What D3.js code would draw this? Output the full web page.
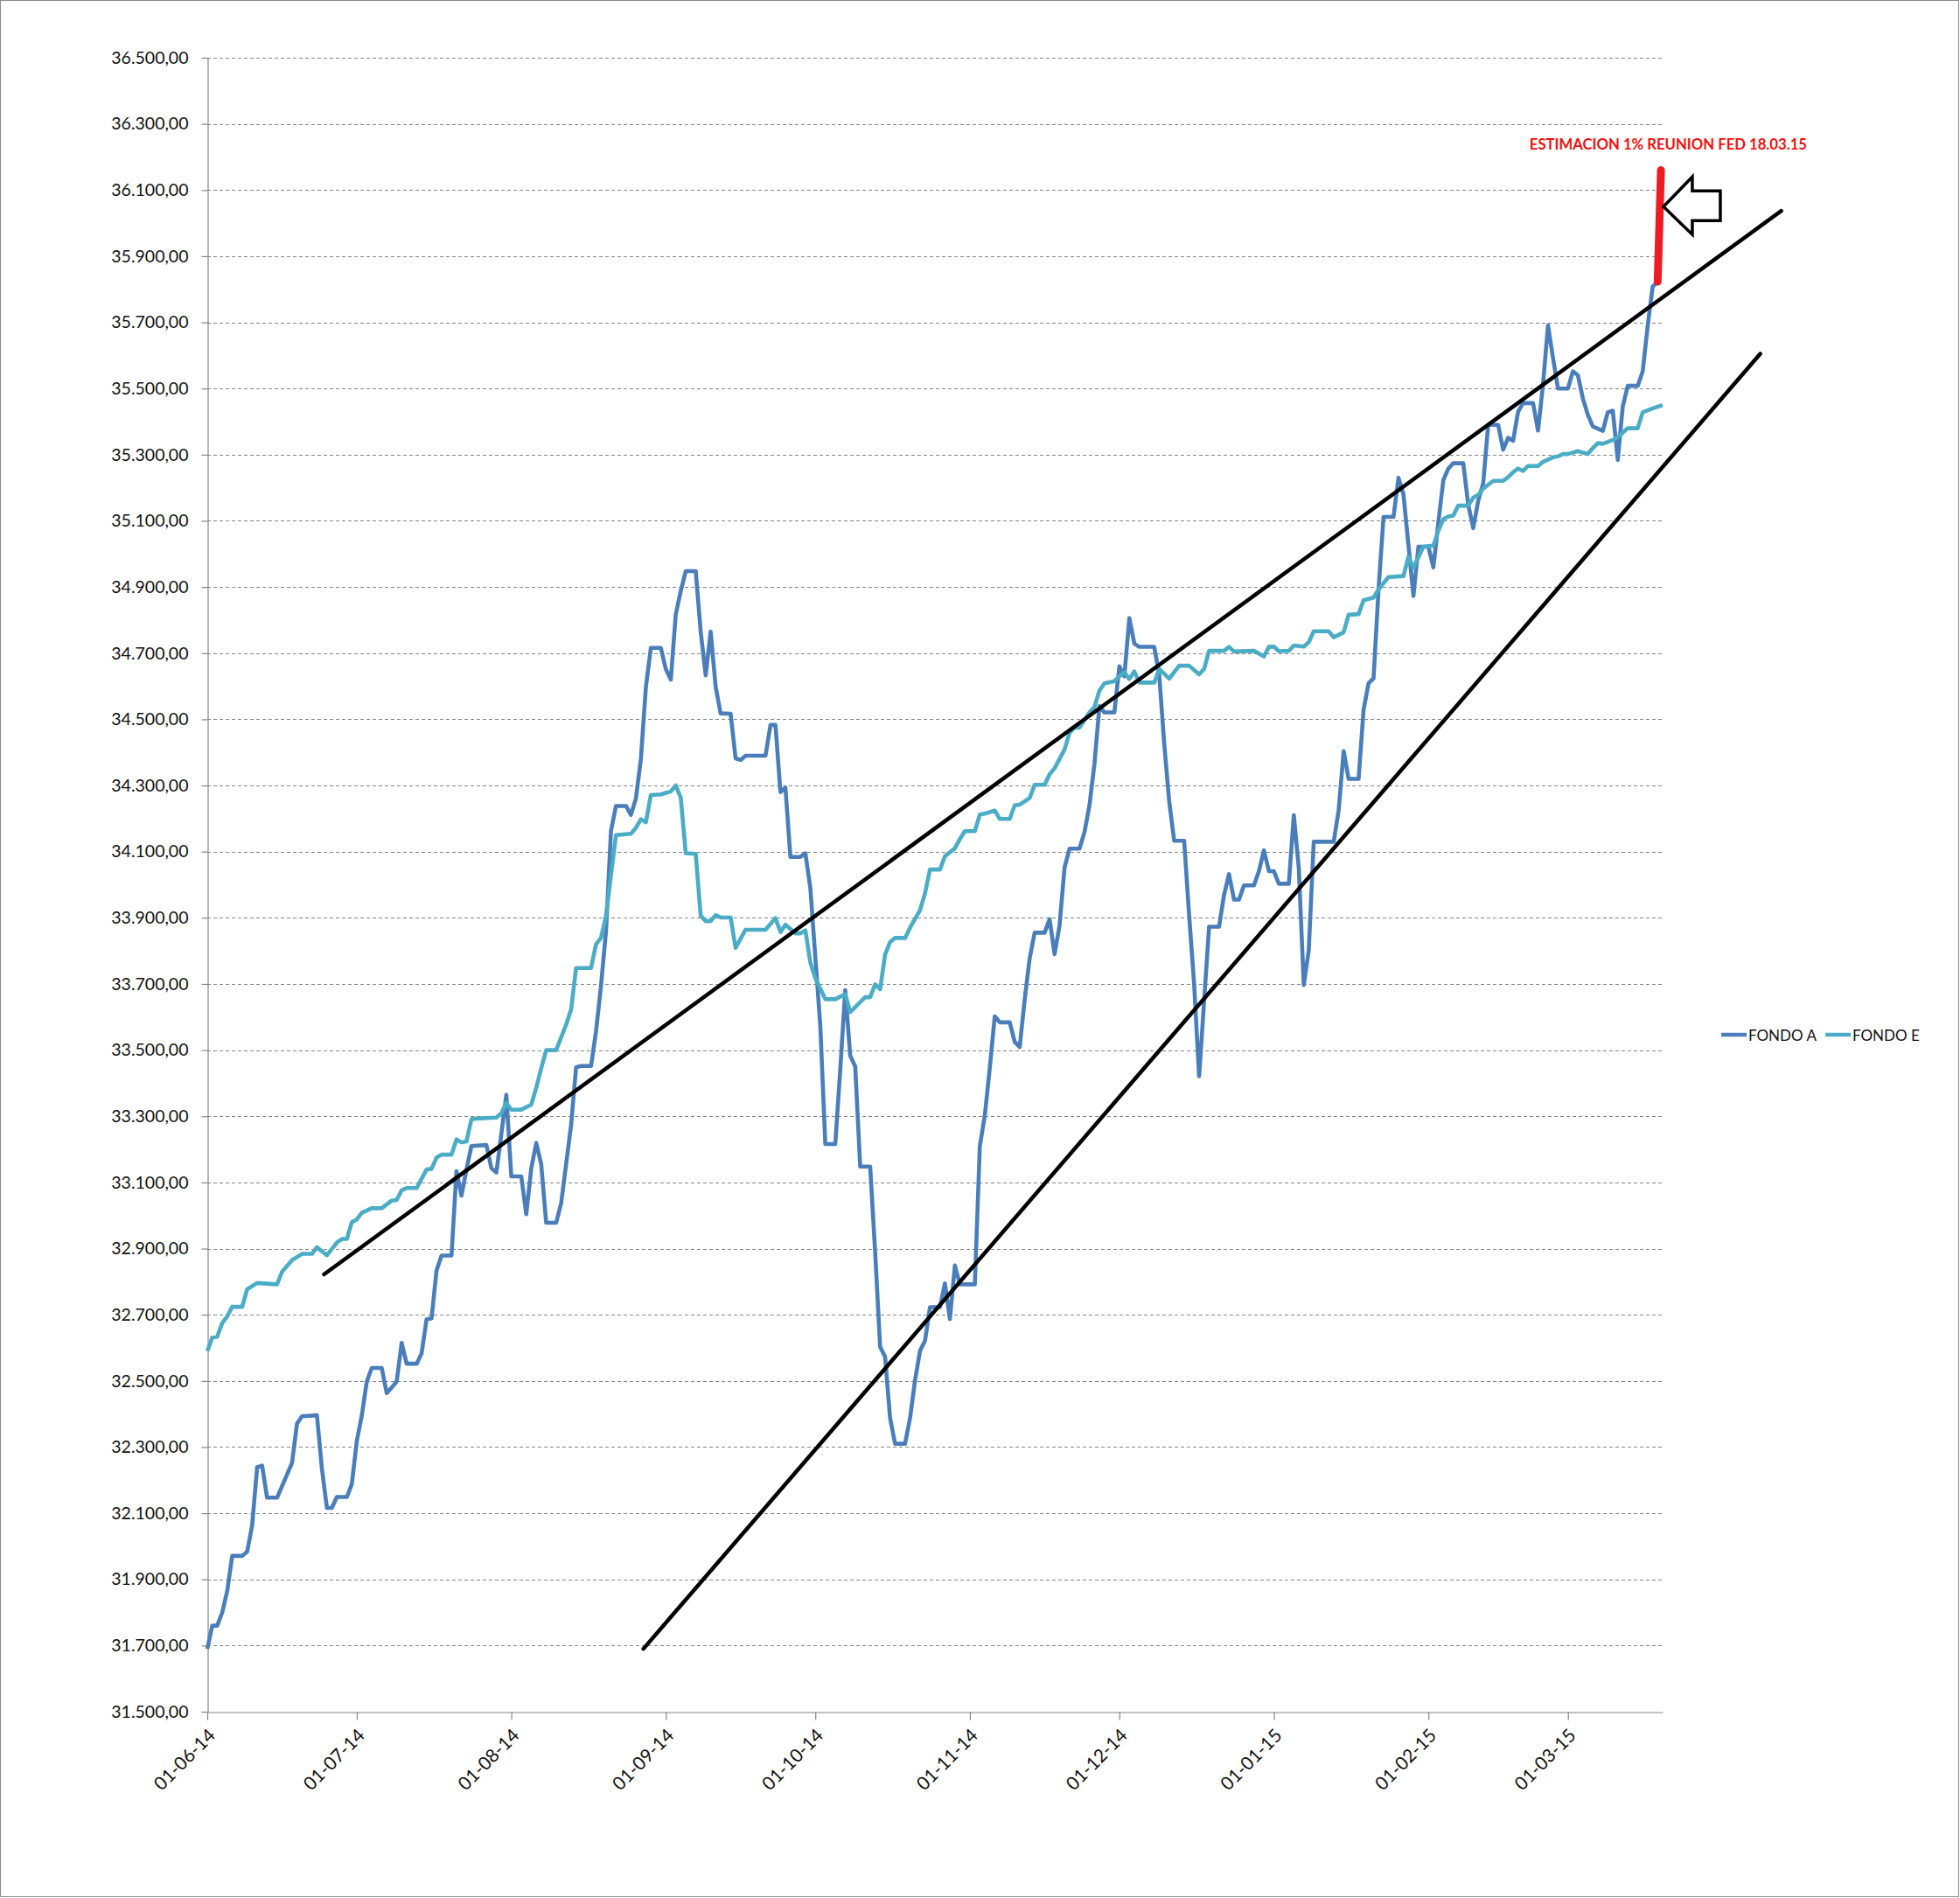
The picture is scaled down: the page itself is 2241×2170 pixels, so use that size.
<!DOCTYPE html>
<html><head><meta charset="utf-8">
<script src="https://cdn.jsdelivr.net/npm/d3@7"></script>
<style>body{margin:0;background:#fff}svg{display:block}</style>
</head><body>
<svg id="chart" width="2241" height="2170"></svg>
<script>
// ---------- data ----------
const seriesNames = ["FONDO A", "FONDO E"];
const yTickValues = [31500,31700,31900,32100,32300,32500,32700,32900,33100,33300,33500,33700,33900,34100,34300,34500,34700,34900,35100,35300,35500,35700,35900,36100,36300,36500];
const xTickDates = ["2014-06-01","2014-07-01","2014-08-01","2014-09-01","2014-10-01","2014-11-01","2014-12-01","2015-01-01","2015-02-01","2015-03-01"];
const xDomain = ["2014-06-01","2015-03-20"];
const yDomain = [31500, 36500];

const fondoA = [
["2014-06-01",31690],["2014-06-02",31760],["2014-06-03",31760],["2014-06-04",31800],["2014-06-05",31865],["2014-06-06",31971],["2014-06-08",31971],["2014-06-09",31984],["2014-06-10",32063],["2014-06-11",32239],["2014-06-12",32244],["2014-06-13",32147],["2014-06-15",32147],["2014-06-16",32182],["2014-06-18",32252],["2014-06-19",32371],["2014-06-20",32393],["2014-06-23",32396],["2014-06-24",32235],["2014-06-25",32116],["2014-06-26",32116],["2014-06-27",32149],["2014-06-29",32149],["2014-06-30",32188],
["2014-07-01",32318],["2014-07-02",32395],["2014-07-03",32498],["2014-07-04",32539],["2014-07-06",32539],["2014-07-07",32463],["2014-07-08",32480],["2014-07-09",32498],["2014-07-10",32615],["2014-07-11",32552],["2014-07-13",32552],["2014-07-14",32583],["2014-07-15",32686],["2014-07-16",32689],["2014-07-17",32834],["2014-07-18",32879],["2014-07-20",32879],["2014-07-21",33134],["2014-07-22",33060],["2014-07-23",33139],["2014-07-24",33210],["2014-07-27",33213],["2014-07-28",33143],["2014-07-29",33130],["2014-07-30",33246],["2014-07-31",33365],
["2014-08-01",33118],["2014-08-03",33118],["2014-08-04",33004],["2014-08-05",33142],["2014-08-06",33219],["2014-08-07",33155],["2014-08-08",32978],["2014-08-10",32978],["2014-08-11",33037],["2014-08-12",33155],["2014-08-13",33274],["2014-08-14",33448],["2014-08-15",33452],["2014-08-17",33452],["2014-08-18",33557],["2014-08-19",33695],["2014-08-20",33860],["2014-08-21",34163],["2014-08-22",34238],["2014-08-24",34238],["2014-08-25",34211],["2014-08-26",34261],["2014-08-27",34380],["2014-08-28",34597],["2014-08-29",34716],["2014-08-31",34716],
["2014-09-01",34652],["2014-09-02",34620],["2014-09-03",34818],["2014-09-04",34888],["2014-09-05",34948],["2014-09-07",34948],["2014-09-08",34765],["2014-09-09",34633],["2014-09-10",34765],["2014-09-11",34598],["2014-09-12",34518],["2014-09-14",34517],["2014-09-15",34382],["2014-09-16",34377],["2014-09-17",34390],["2014-09-21",34390],["2014-09-22",34483],["2014-09-23",34483],["2014-09-24",34280],["2014-09-25",34293],["2014-09-26",34084],["2014-09-28",34084],["2014-09-29",34095],["2014-09-30",33990],
["2014-10-01",33780],["2014-10-02",33573],["2014-10-03",33216],["2014-10-05",33216],["2014-10-06",33441],["2014-10-07",33681],["2014-10-08",33483],["2014-10-09",33451],["2014-10-10",33148],["2014-10-12",33148],["2014-10-13",32890],["2014-10-14",32603],["2014-10-15",32573],["2014-10-16",32387],["2014-10-17",32310],["2014-10-19",32310],["2014-10-20",32387],["2014-10-21",32501],["2014-10-22",32591],["2014-10-23",32621],["2014-10-24",32723],["2014-10-26",32723],["2014-10-27",32795],["2014-10-28",32687],["2014-10-29",32849],["2014-10-30",32792],
["2014-11-02",32792],["2014-11-03",33209],["2014-11-04",33302],["2014-11-05",33446],["2014-11-06",33602],["2014-11-07",33584],["2014-11-09",33584],["2014-11-10",33525],["2014-11-11",33509],["2014-11-12",33652],["2014-11-13",33777],["2014-11-14",33855],["2014-11-16",33855],["2014-11-17",33896],["2014-11-18",33790],["2014-11-19",33877],["2014-11-20",34052],["2014-11-21",34109],["2014-11-23",34109],["2014-11-24",34159],["2014-11-25",34240],["2014-11-26",34365],["2014-11-27",34540],["2014-11-28",34521],["2014-11-30",34521],
["2014-12-01",34660],["2014-12-02",34630],["2014-12-03",34806],["2014-12-04",34729],["2014-12-05",34719],["2014-12-08",34719],["2014-12-09",34633],["2014-12-10",34426],["2014-12-11",34252],["2014-12-12",34133],["2014-12-14",34133],["2014-12-15",33907],["2014-12-16",33700],["2014-12-17",33421],["2014-12-18",33647],["2014-12-19",33873],["2014-12-21",33873],["2014-12-22",33969],["2014-12-23",34032],["2014-12-24",33955],["2014-12-25",33955],["2014-12-26",33998],["2014-12-28",33998],["2014-12-29",34041],["2014-12-30",34104],["2014-12-31",34041],
["2015-01-01",34041],["2015-01-02",34003],["2015-01-04",34003],["2015-01-05",34210],["2015-01-06",34051],["2015-01-07",33697],["2015-01-08",33802],["2015-01-09",34130],["2015-01-13",34130],["2015-01-14",34225],["2015-01-15",34404],["2015-01-16",34320],["2015-01-18",34320],["2015-01-19",34529],["2015-01-20",34609],["2015-01-21",34624],["2015-01-22",34893],["2015-01-23",35112],["2015-01-25",35112],["2015-01-26",35230],["2015-01-27",35180],["2015-01-29",34873],["2015-01-30",35022],
["2015-02-01",35022],["2015-02-02",34959],["2015-02-03",35095],["2015-02-04",35223],["2015-02-05",35258],["2015-02-06",35274],["2015-02-08",35274],["2015-02-09",35148],["2015-02-10",35078],["2015-02-11",35161],["2015-02-12",35214],["2015-02-13",35390],["2015-02-15",35390],["2015-02-16",35315],["2015-02-17",35351],["2015-02-18",35342],["2015-02-19",35430],["2015-02-20",35456],["2015-02-22",35456],["2015-02-23",35373],["2015-02-24",35512],["2015-02-25",35691],["2015-02-26",35593],["2015-02-27",35500],
["2015-03-01",35500],["2015-03-02",35552],["2015-03-03",35540],["2015-03-04",35470],["2015-03-05",35420],["2015-03-06",35385],["2015-03-08",35372],["2015-03-09",35428],["2015-03-10",35433],["2015-03-11",35284],["2015-03-12",35446],["2015-03-13",35508],["2015-03-15",35508],["2015-03-16",35552],["2015-03-17",35689],["2015-03-18",35808],["2015-03-19",35823]
];

const fondoE = [
["2014-06-01",32590],["2014-06-02",32631],["2014-06-03",32634],["2014-06-04",32675],["2014-06-05",32695],["2014-06-06",32724],["2014-06-08",32724],["2014-06-09",32777],["2014-06-11",32796],["2014-06-15",32792],["2014-06-16",32830],["2014-06-18",32865],["2014-06-20",32884],["2014-06-22",32884],["2014-06-23",32904],["2014-06-25",32880],["2014-06-27",32918],["2014-06-28",32929],["2014-06-29",32929],["2014-06-30",32980],
["2014-07-01",32988],["2014-07-02",33008],["2014-07-04",33022],["2014-07-06",33022],["2014-07-08",33045],["2014-07-09",33047],["2014-07-10",33076],["2014-07-11",33083],["2014-07-13",33083],["2014-07-15",33139],["2014-07-16",33141],["2014-07-17",33175],["2014-07-18",33184],["2014-07-20",33184],["2014-07-21",33230],["2014-07-22",33221],["2014-07-23",33224],["2014-07-24",33291],["2014-07-25",33293],["2014-07-29",33296],["2014-07-30",33309],["2014-07-31",33340],
["2014-08-01",33320],["2014-08-03",33320],["2014-08-05",33335],["2014-08-06",33386],["2014-08-07",33445],["2014-08-08",33500],["2014-08-10",33500],["2014-08-12",33577],["2014-08-13",33623],["2014-08-14",33748],["2014-08-17",33748],["2014-08-18",33820],["2014-08-19",33840],["2014-08-20",33906],["2014-08-21",34030],["2014-08-22",34150],["2014-08-25",34154],["2014-08-26",34172],["2014-08-27",34198],["2014-08-28",34189],["2014-08-29",34271],["2014-08-31",34273],
["2014-09-02",34282],["2014-09-03",34300],["2014-09-04",34263],["2014-09-05",34095],["2014-09-07",34093],["2014-09-08",33906],["2014-09-09",33890],["2014-09-10",33890],["2014-09-11",33908],["2014-09-12",33901],["2014-09-14",33901],["2014-09-15",33809],["2014-09-17",33864],["2014-09-21",33864],["2014-09-23",33899],["2014-09-24",33857],["2014-09-25",33879],["2014-09-27",33853],["2014-09-28",33853],["2014-09-29",33862],["2014-09-30",33765],
["2014-10-01",33717],["2014-10-03",33654],["2014-10-05",33654],["2014-10-07",33669],["2014-10-08",33615],["2014-10-11",33660],["2014-10-12",33660],["2014-10-13",33699],["2014-10-14",33684],["2014-10-15",33789],["2014-10-16",33827],["2014-10-17",33839],["2014-10-19",33839],["2014-10-20",33870],["2014-10-22",33923],["2014-10-23",33974],["2014-10-24",34046],["2014-10-26",34046],["2014-10-27",34086],["2014-10-29",34110],["2014-10-30",34138],["2014-10-31",34162],
["2014-11-02",34162],["2014-11-03",34212],["2014-11-04",34215],["2014-11-06",34224],["2014-11-07",34199],["2014-11-09",34199],["2014-11-10",34240],["2014-11-11",34242],["2014-11-13",34262],["2014-11-14",34302],["2014-11-16",34302],["2014-11-17",34334],["2014-11-18",34352],["2014-11-20",34409],["2014-11-21",34459],["2014-11-22",34475],["2014-11-23",34475],["2014-11-25",34521],["2014-11-26",34537],["2014-11-27",34587],["2014-11-28",34609],["2014-11-30",34615],
["2014-12-01",34630],["2014-12-02",34642],["2014-12-03",34622],["2014-12-04",34645],["2014-12-05",34611],["2014-12-08",34611],["2014-12-09",34652],["2014-12-11",34623],["2014-12-13",34662],["2014-12-15",34662],["2014-12-17",34636],["2014-12-18",34652],["2014-12-19",34707],["2014-12-22",34707],["2014-12-23",34719],["2014-12-24",34705],["2014-12-28",34707],["2014-12-30",34690],["2014-12-31",34719],
["2015-01-01",34720],["2015-01-02",34706],["2015-01-04",34707],["2015-01-05",34723],["2015-01-07",34720],["2015-01-08",34733],["2015-01-09",34766],["2015-01-12",34766],["2015-01-13",34748],["2015-01-15",34763],["2015-01-16",34816],["2015-01-18",34818],["2015-01-19",34860],["2015-01-21",34868],["2015-01-22",34893],["2015-01-24",34930],["2015-01-27",34933],["2015-01-28",34992],["2015-01-29",34958],["2015-01-31",35022],
["2015-02-02",35025],["2015-02-03",35070],["2015-02-04",35105],["2015-02-05",35113],["2015-02-06",35116],["2015-02-07",35146],["2015-02-09",35146],["2015-02-10",35170],["2015-02-11",35179],["2015-02-12",35197],["2015-02-14",35221],["2015-02-16",35221],["2015-02-17",35232],["2015-02-18",35247],["2015-02-19",35258],["2015-02-20",35251],["2015-02-21",35266],["2015-02-23",35266],["2015-02-24",35278],["2015-02-26",35292],["2015-02-27",35295],["2015-02-28",35302],
["2015-03-01",35302],["2015-03-03",35311],["2015-03-04",35306],["2015-03-05",35302],["2015-03-06",35320],["2015-03-07",35335],["2015-03-08",35333],["2015-03-10",35344],["2015-03-11",35353],["2015-03-13",35380],["2015-03-15",35380],["2015-03-16",35428],["2015-03-18",35440],["2015-03-20",35450]
];

// hand-drawn additions on the original picture
const estimacionA = [["2015-03-19T00:00",35823],["2015-03-19T16:00",36160]];
const trendUpper = [["2014-06-24T10:00",32822],["2015-04-12T19:00",36037]];
const trendLower = [["2014-08-27T12:00",31690],["2015-04-08T14:00",35605]];
const arrowTip = ["2015-03-20T04:00",36050];
const annotationText = "ESTIMACION 1% REUNION FED 18.03.15";
const annotationAt = ["2015-02-21T07:00",36222];

// ---------- drawing ----------
const W = 2241, H = 2170;
const M = {left: 237, right: 1901, top: 66, bottom: 1957};
const colors = {A: "#4A7EBB", E: "#4BACC6", grid: "#878787", axis: "#868686", red: "#ED1C24"};
const FONT = "Lato, 'Open Sans', sans-serif";

const parse = s => (s.length > 10 ? d3.utcParse("%Y-%m-%dT%H:%M") : d3.utcParse("%Y-%m-%d"))(s);
const x = d3.scaleUtc().domain(xDomain.map(parse)).range([M.left, M.right]);
const y = d3.scaleLinear().domain(yDomain).range([M.bottom, M.top]);
const esLocale = d3.formatLocale({decimal: ",", thousands: ".", grouping: [3], currency: ["", ""]});
const fmtY = esLocale.format(",.2f");
const fmtX = d3.utcFormat("%d-%m-%y");

const svg = d3.select("#chart");
svg.append("rect").attr("x", 0.5).attr("y", 0.5).attr("width", W - 2).attr("height", H - 2)
  .attr("fill", "#fff").attr("stroke", "#8a8a8a").attr("stroke-width", 1);

// gridlines
svg.append("g").selectAll("line").data(yTickValues.filter(v => v !== yDomain[0])).join("line")
  .attr("x1", M.left).attr("x2", M.right)
  .attr("y1", d => Math.round(y(d)) + 0.5).attr("y2", d => Math.round(y(d)) + 0.5)
  .attr("stroke", colors.grid).attr("stroke-width", 1).attr("stroke-dasharray", "4,3");

// y axis
const yAxis = svg.append("g").attr("transform", `translate(${M.left + 0.5},0)`)
  .call(d3.axisLeft(y).tickValues(yTickValues).tickFormat(fmtY).tickSize(7).tickSizeOuter(0).tickPadding(15));
yAxis.select(".domain").attr("stroke", colors.axis).attr("stroke-width", 1.2);
yAxis.selectAll(".tick line").attr("stroke", colors.axis).attr("stroke-width", 1.2);
yAxis.selectAll("text").attr("font-family", FONT).attr("font-size", 19.5).attr("fill", "#111");

// x axis
const xAxis = svg.append("g").attr("transform", `translate(0,${M.bottom + 0.5})`)
  .call(d3.axisBottom(x).tickValues(xTickDates.map(parse)).tickFormat(fmtX).tickSize(9).tickSizeOuter(0));
xAxis.select(".domain").attr("stroke", colors.axis).attr("stroke-width", 1.2);
xAxis.selectAll(".tick line").attr("stroke", colors.axis).attr("stroke-width", 1.2);
xAxis.selectAll("text").attr("font-family", FONT).attr("font-size", 21).attr("fill", "#111")
  .attr("x", 0).attr("y", 0).attr("dy", 0).attr("text-anchor", "end")
  .attr("transform", "translate(10,28) rotate(-45)");

// series
const line = d3.line().x(d => x(parse(d[0]))).y(d => y(d[1]));
svg.append("path").datum(fondoA).attr("d", line).attr("fill", "none")
  .attr("stroke", colors.A).attr("stroke-width", 4.6).attr("stroke-linejoin", "round");
svg.append("path").datum(fondoE).attr("d", line).attr("fill", "none")
  .attr("stroke", colors.E).attr("stroke-width", 4.6).attr("stroke-linejoin", "round");

// trend lines
[trendUpper, trendLower].forEach(t => {
  svg.append("path").datum(t).attr("d", line).attr("fill", "none")
    .attr("stroke", "#000").attr("stroke-width", 4.5).attr("stroke-linecap", "round");
});

// estimate
svg.append("path").datum(estimacionA).attr("d", line).attr("fill", "none")
  .attr("stroke", colors.red).attr("stroke-width", 9).attr("stroke-linecap", "round");

// arrow
const tx = x(parse(arrowTip[0])), ty = y(arrowTip[1]);
const arrowPts = [[0,0],[33,-34],[33,-18],[65,-18],[65,16],[33,16],[33,32]];
svg.append("polygon").attr("points", arrowPts.map(p => [tx + p[0], ty + p[1]].join(",")).join(" "))
  .attr("fill", "#fff").attr("stroke", "#000").attr("stroke-width", 3.5).attr("stroke-linejoin", "miter");

// annotation
svg.append("text").attr("x", x(parse(annotationAt[0]))).attr("y", y(annotationAt[1]))
  .attr("font-family", FONT).attr("font-weight", "bold").attr("font-size", 16.7)
  .attr("fill", "#F01010").text(annotationText);

// legend
const legendItems = [{name: seriesNames[0], color: colors.A, x0: 1968}, {name: seriesNames[1], color: colors.E, x0: 2087}];
const lg = svg.append("g");
legendItems.forEach(it => {
  lg.append("line").attr("x1", it.x0).attr("x2", it.x0 + 29).attr("y1", 1183).attr("y2", 1183)
    .attr("stroke", it.color).attr("stroke-width", 4.5);
  lg.append("text").attr("x", it.x0 + 31).attr("y", 1189.5).attr("font-family", FONT)
    .attr("font-size", 17).attr("fill", "#111").text(it.name);
});
</script>
</body></html>
